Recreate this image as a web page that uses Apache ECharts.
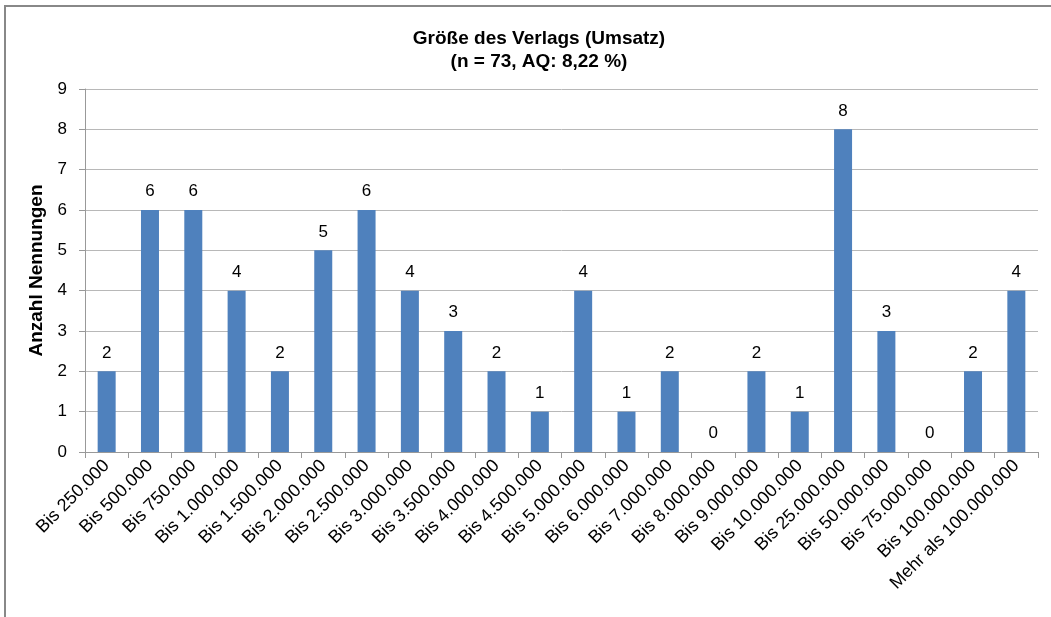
<!DOCTYPE html>
<html lang="de">
<head>
    <meta charset="UTF-8">
    <title>Größe des Verlags</title>
    <style>
        html, body { margin: 0; padding: 0; background: #fff; }
        #main { width: 1051px; height: 617px; }
    </style>
</head>
<body>
    <div id="main"></div>
<script src="https://cdn.jsdelivr.net/npm/echarts@6/dist/echarts.min.js"></script>
<script type="text/javascript">
    var categories = ['Bis 250.000', 'Bis 500.000', 'Bis 750.000', 'Bis 1.000.000', 'Bis 1.500.000',
        'Bis 2.000.000', 'Bis 2.500.000', 'Bis 3.000.000', 'Bis 3.500.000', 'Bis 4.000.000',
        'Bis 4.500.000', 'Bis 5.000.000', 'Bis 6.000.000', 'Bis 7.000.000', 'Bis 8.000.000',
        'Bis 9.000.000', 'Bis 10.000.000', 'Bis 25.000.000', 'Bis 50.000.000', 'Bis 75.000.000',
        'Bis 100.000.000', 'Mehr als 100.000.000'];
    var counts = [2, 6, 6, 4, 2, 5, 6, 4, 3, 2, 1, 4, 1, 2, 0, 2, 1, 8, 3, 0, 2, 4];
    var yTicks = [0, 1, 2, 3, 4, 5, 6, 7, 8, 9];

    var font = 'Liberation Sans, Arial, sans-serif';
    var myChart = echarts.init(document.getElementById('main'));

    var option = {
        animation: false,
        textStyle: { fontFamily: font },
        title: {
            text: 'Größe des Verlags (Umsatz)\n(n = 73, AQ: 8,22 %)',
            left: 534,
            top: 22,
            textAlign: 'center',
            textStyle: { fontSize: 19, fontWeight: 'bold', color: '#000', lineHeight: 23, fontFamily: font }
        },
        graphic: [{
            type: 'rect',
            shape: { x: 5, y: 6, width: 1100, height: 700 },
            style: { fill: 'none', stroke: '#888', lineWidth: 2 },
            silent: true
        }],
        grid: { left: 85, right: 13, top: 89, bottom: 165 },
        xAxis: {
            type: 'category',
            data: categories,
            axisLine: { lineStyle: { color: '#999' } },
            axisTick: { show: true, length: 6, lineStyle: { color: '#999' } },
            axisLabel: { interval: 0, rotate: 45, fontSize: 18, color: '#000', margin: 11, fontFamily: font }
        },
        yAxis: {
            type: 'value',
            min: yTicks[0],
            max: yTicks[yTicks.length - 1],
            interval: 1,
            name: 'Anzahl Nennungen',
            nameLocation: 'middle',
            nameGap: 24,
            nameTextStyle: { fontSize: 19, fontWeight: 'bold', color: '#000', fontFamily: font },
            axisLine: { show: true, lineStyle: { color: '#999' } },
            axisTick: { show: true, length: 6, lineStyle: { color: '#999' } },
            axisLabel: { fontSize: 17, color: '#000', margin: 18, fontFamily: font },
            splitLine: { lineStyle: { color: '#b8b8b8' } }
        },
        series: [{
            type: 'bar',
            data: counts,
            barWidth: 18,
            itemStyle: { color: '#4f81bd' },
            label: { show: true, position: 'top', distance: 10, fontSize: 17, color: '#000', fontFamily: font }
        }]
    };
    myChart.setOption(option);
</script>
</body>
</html>
